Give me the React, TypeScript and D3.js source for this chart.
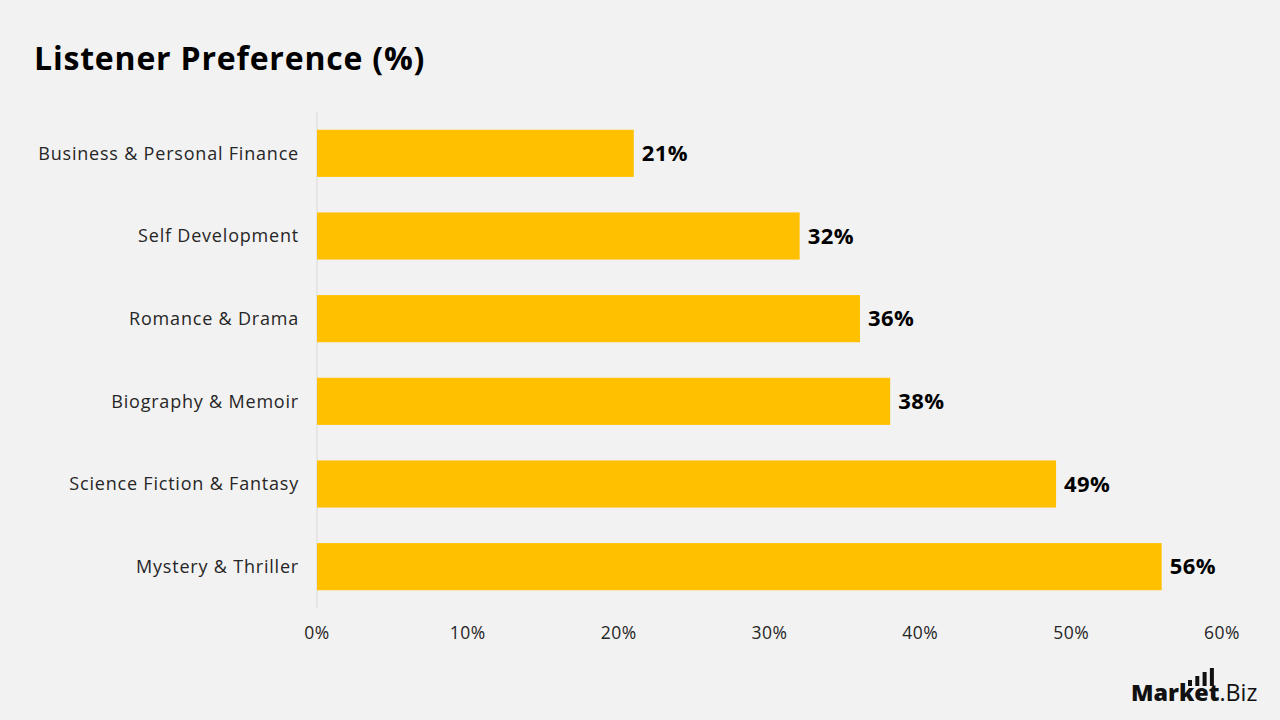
import React from "react";
import * as d3 from "d3";

const categories = [
  "Business & Personal Finance",
  "Self Development",
  "Romance & Drama",
  "Biography & Memoir",
  "Science Fiction & Fantasy",
  "Mystery & Thriller",
];
const values = [21, 32, 36, 38, 49, 56];
const xTicks = [0, 10, 20, 30, 40, 50, 60];

const W = 1280;
const H = 720;
const FONT = "'Open Sans', 'Noto Sans', sans-serif";

export default function App() {
  const x = d3.scaleLinear().domain([0, 60]).range([317, 1222]);
  const y = d3
    .scaleBand<string>()
    .domain(categories)
    .range([112, 608])
    .paddingInner(0.43)
    .paddingOuter(0.215);

  return (
    <svg
      width={W}
      height={H}
      style={{ position: "absolute", left: 0, top: 0, background: "#f2f2f2" }}
    >
      <rect width={W} height={H} fill="#f2f2f2" />
      <text
        x={34}
        y={70}
        fontFamily={FONT}
        fontWeight={700}
        fontSize={32}
        letterSpacing={0.8}
        fill="#000"
      >
        Listener Preference (%)
      </text>

      {/* baseline axis */}
      <line x1={x(0)} x2={x(0)} y1={112} y2={608} stroke="#d9d9d9" strokeWidth={1} />

      {categories.map((c, i) => {
        const yy = y(c)!;
        const bw = y.bandwidth();
        return (
          <g key={c}>
            <rect x={x(0)} y={yy} width={x(values[i]) - x(0)} height={bw} fill="#ffc000" />
            <text
              x={299}
              y={yy + bw / 2}
              dy="0.35em"
              textAnchor="end"
              fontFamily={FONT}
              fontSize={18}
              letterSpacing={0.8}
              fill="#262626"
            >
              {c}
            </text>
            <text
              x={x(values[i]) + 8}
              y={yy + bw / 2}
              dy="0.35em"
              fontFamily={FONT}
              fontWeight={700}
              fontSize={22}
              letterSpacing={0.4}
              fill="#000"
            >
              {values[i]}%
            </text>
          </g>
        );
      })}

      {xTicks.map((t) => (
        <text
          key={t}
          x={x(t)}
          y={633}
          dy="0.35em"
          textAnchor="middle"
          fontFamily={FONT}
          fontSize={17.5}
          letterSpacing={0.5}
          fill="#262626"
        >
          {t}%
        </text>
      ))}

      {/* brand mark */}
      <g>
        {[0, 1, 2, 3].map((k) => (
          <rect
            key={k}
            x={1188 + k * 7.3}
            y={680 - k * 4}
            width={4}
            height={6 + k * 4}
            fill="#111"
          />
        ))}
        <text x={1131} y={701} fontFamily={FONT} fontSize={23.3} fill="#111">
          <tspan fontWeight={800}>Market</tspan>
          <tspan fontWeight={400}>.Biz</tspan>
        </text>
      </g>
    </svg>
  );
}
